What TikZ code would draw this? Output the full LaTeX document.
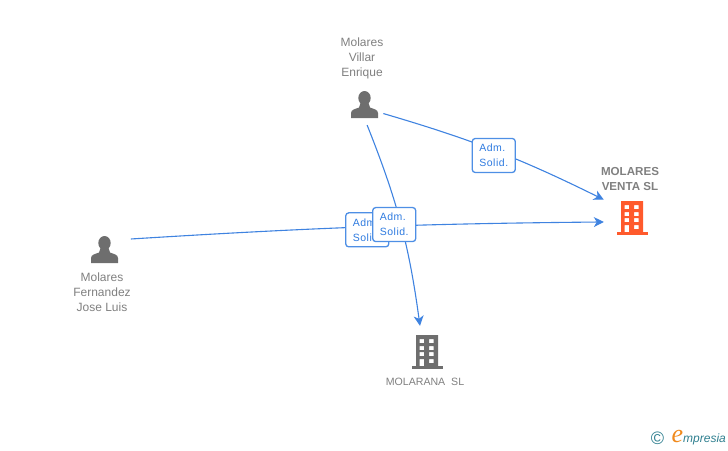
\documentclass[tikz,border=0pt]{standalone}
\usepackage{fontspec}
\setmainfont{Liberation Sans}
\newfontfamily\logoserif{Liberation Serif}
\usetikzlibrary{arrows.meta}
\definecolor{linkblue}{HTML}{3F83E0}
\definecolor{labelblue}{HTML}{2F7BE0}
\definecolor{icongray}{HTML}{6E6E6E}
\definecolor{textgray}{HTML}{808080}
\definecolor{iconred}{HTML}{FF5A2C}
\definecolor{logoteal}{HTML}{2F7F8F}
\definecolor{logoorange}{HTML}{F08A1D}
\tikzset{
  person/.pic={
    \path[pic actions] (0,-7) ellipse (6.2 and 7);
    \path[pic actions] (-13.5,13) -- (-13.5,8) .. controls (-13.5,4.5) and (-9,4) .. (-5.5,2.5)
      -- (-4,-2) -- (4,-2) -- (5.5,2.5) .. controls (9,4) and (13.5,4.5) .. (13.5,8) -- (13.5,13) -- cycle;
  },
  building/.pic={
    \path[pic actions,even odd rule] (-11,-17) rectangle (11,14)
      (-7.5,-13) rectangle (-3,-9) (2,-13) rectangle (6.5,-9)
      (-7.5,-6) rectangle (-3,-2) (2,-6) rectangle (6.5,-2)
      (-7.5,0) rectangle (-3,4) (2,0) rectangle (6.5,4)
      (-7.5,7) rectangle (-3,14) (2,7) rectangle (6.5,11);
    \path[pic actions] (-15.5,14) rectangle (15.5,17);
  },
  who/.style={circle,inner sep=0pt},
  firm/.style={rectangle,inner sep=0pt,minimum width=56pt,minimum height=52pt},
  caption/.style={align=center,text=textgray,inner sep=0pt,font=\fontsize{12}{15}\selectfont},
  link/.style={draw=linkblue,line width=1.1pt,-{Stealth[length=10pt,width=10pt,inset=3pt]}},
  role/.style={draw=labelblue!85!white,line width=1.3pt,rounded corners=3pt,fill=white,
    text=labelblue,align=left,inner sep=0pt,minimum width=43pt,minimum height=34pt,
    font=\fontsize{10.5}{15}\selectfont\addfontfeatures{LetterSpace=5}},
}

\begin{document}
\begin{tikzpicture}[x=1pt,y=-1pt]
  \useasboundingbox (0,0) rectangle (728,450);
  \node[who,minimum size=40pt] (villar) at (365,105) {};
  \node[who,minimum size=56pt] (fernandez) at (105,250) {};
  \node[firm] (venta) at (632,218) {};
  \node[firm] (molarana) at (427,352) {};
  \pic[fill=icongray] at (364.5,105) {person};
  \pic[fill=icongray] at (104.5,250) {person};
  \pic[fill=iconred] at (632,218) {building};
  \pic[fill=icongray] at (427,352) {building};

  \node[caption] (villarname) at (362,58) {Molares\\Villar\\Enrique};
  \node[caption] (fernandezname) at (102,292) {Molares\\Fernandez\\Jose Luis};
  \node[caption,font=\fontsize{11.6}{15}\selectfont\bfseries] (ventaname) at (630,179) {MOLARES\\VENTA SL};
  \node[caption,font=\fontsize{10.6}{15}\selectfont] (molarananame) at (425,381.5) {MOLARANA\ \ SL};

  \draw[link] (villar.-25) to[bend left=5] node[role,xshift=-2pt,yshift=-4.5pt] (roleone) {Adm.\\Solid.} (venta.147);
  \draw[link] (fernandez.23) to[bend left=1.5] node[role,yshift=-3pt] (roletwo) {Adm.\\Solid.} (venta.188);
  \draw[link] (villar.-84) to[bend left=7] node[role,xshift=-6.5pt,yshift=-1pt] (rolethree) {Adm.\\Solid.} (molarana.105);

  % logo
  \node[text=logoteal,inner sep=0pt,font=\fontsize{18}{18}\selectfont] (copy) at (657.5,438.5) {\textcopyright};
  \node[text=logoorange,inner sep=0pt,font=\fontsize{26}{26}\selectfont\logoserif\itshape] (logoe) at (677.5,436) {e};
  \node[text=logoteal,inner sep=0pt,anchor=west,font=\fontsize{12}{12}\selectfont\itshape] (logotext) at (683,439) {mpresia};
\end{tikzpicture}
\end{document}
